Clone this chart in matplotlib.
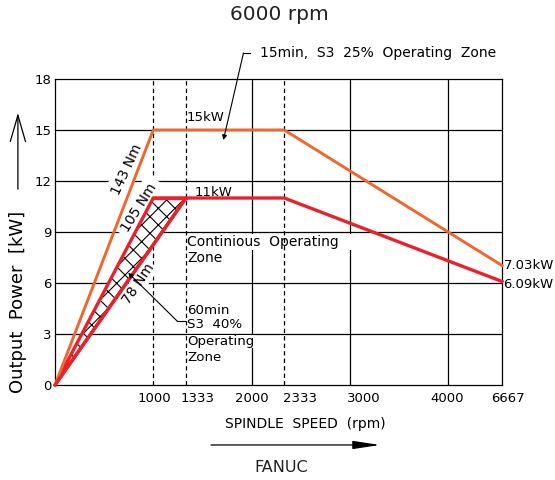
import numpy as np
import matplotlib
matplotlib.use('Agg')
import matplotlib.pyplot as plt
from matplotlib.patches import Polygon

plt.rcParams['font.family'] = ['DejaVu Sans']
plt.rcParams['hatch.linewidth'] = 0.8

# data
s3_25_speed = [0, 1000, 2333, 6667]     # 15min, S3 25%
s3_25_power = [0, 15, 15, 7.03]
cont_speed = [0, 1333, 2333, 6667]      # continuous
cont_power = [0, 11, 11, 6.09]
s3_40_speed = [0, 1000, 1333]           # 60min, S3 40%
s3_40_power = [0, 11, 11]

x_ticks = [1000, 1333, 2000, 2333, 3000, 4000, 6667]
x_tick_labels = ['1000', '1333', '2000', '2333', '3000', '4000', '6667']
x_dashed = [1000, 1333, 2333]
y_ticks = [0, 3, 6, 9, 12, 15, 18]

s3_40_lines = ['60min', 'S3  40%', 'Operating', 'Zone']
s3_40_line_y = [4.41, 3.53, 2.55, 1.6]

ORANGE = '#f0662c'
RED = '#e8212b'

# speed axis is linear up to 4000 then squeezed
k = 0.206
def fwd(x):
    x = np.asarray(x, float)
    return np.where(x <= 4000, x, 4000 + (x - 4000) * k)
def inv(y):
    y = np.asarray(y, float)
    return np.where(y <= 4000, y, 4000 + (y - 4000) / k)

fig = plt.figure(figsize=(5.55, 4.8), dpi=100)
ax = fig.add_axes([55/555, 1 - 385/480, 447/555, 306/480])
ax.set_xscale('function', functions=(fwd, inv))
ax.set_xlim(0, 6667)
ax.set_ylim(0, 18)

# grid
for y in y_ticks[1:-1]:
    ax.axhline(y, color='k', lw=0.9, zorder=1)
for x in x_ticks[:-1]:
    if x in x_dashed:
        z = 1 if x == 1000 else 2.5
        ax.axvline(x, color='k', lw=0.9, ls=(0, (3.5, 2.5)), zorder=z)
    else:
        ax.axvline(x, color='k', lw=0.9, zorder=1)
for s in ax.spines.values():
    s.set_linewidth(0.9)

ax.set_xticks([])
ax.set_yticks(y_ticks)
ax.tick_params(axis='y', length=0, pad=2.5, labelsize=9.5)
ax.xaxis.set_minor_locator(matplotlib.ticker.NullLocator())

# x tick labels, some sit right of their line
x_label_dx = [1, 8, 0, 11, 10, -1, 4]
for t, lbl, dx in zip(x_ticks, x_tick_labels, x_label_dx):
    ax.annotate(lbl, xy=(t, 0), xycoords=ax.get_xaxis_transform(),
                xytext=(dx, -10), textcoords='offset points',
                ha='center', va='center', fontsize=9.5)

# hatched 60min zone
pts = np.column_stack([s3_40_speed, s3_40_power])
ax.add_patch(Polygon(pts, closed=True, facecolor='white', edgecolor='k',
                     hatch='xx', lw=0, zorder=3))
ax.add_patch(Polygon(pts, closed=True, fill=False, edgecolor=RED,
                     lw=2.4, joinstyle='round', zorder=4))

ax.plot(s3_25_speed, s3_25_power, color=ORANGE, lw=2.1, zorder=4, clip_on=False)
ax.plot(cont_speed, cont_power, color=RED, lw=2.4, zorder=4, clip_on=False)
ax.plot(s3_40_speed[1:], s3_40_power[1:], color=RED, lw=2.4, zorder=4)

box = dict(boxstyle='square,pad=0.1', fc='white', ec='none')
nm_box = dict(boxstyle='square,pad=0.35', fc='white', ec='none')
ax.text(733, 12.65, '143 Nm', rotation=65, ha='center', va='center',
        fontsize=10, bbox=nm_box, zorder=2)
ax.text(860, 10.45, '105 Nm', rotation=58, ha='center', va='center',
        fontsize=10, bbox=nm_box, zorder=2)
ax.text(850, 5.95, '78 Nm', rotation=56, ha='center', va='center',
        fontsize=10, bbox=box, zorder=2)

ax.text(1531, 15.75, '15kW', ha='center', va='center', fontsize=9.5)
ax.text(1612, 11.35, '11kW', ha='center', va='center', fontsize=9.5)
ax.annotate('7.03kW', xy=(6667, s3_25_power[-1]), xytext=(1, 0),
            textcoords='offset points', ha='left', va='center', fontsize=9.5)
ax.annotate('6.09kW', xy=(6667, cont_power[-1]), xytext=(1, -2),
            textcoords='offset points', ha='left', va='center', fontsize=9.5)

ax.text(1345, 8.41, 'Continious  Operating   ', ha='left', va='center',
        fontsize=10, bbox=box, zorder=2)
ax.text(1345, 7.5, 'Zone', ha='left', va='center', fontsize=10,
        bbox=box, zorder=2)
for line, y in zip(s3_40_lines, s3_40_line_y):
    ax.text(1345, y, line, ha='left', va='center', fontsize=9.6,
            bbox=dict(boxstyle='square,pad=0.02', fc='white', ec='none'),
            zorder=2)

# leaders
ax.annotate('', xy=(745, 6.6), xytext=(1245, 3.75),
            arrowprops=dict(arrowstyle='-|>', lw=0.8, color='k',
                            mutation_scale=7, shrinkA=0, shrinkB=0), zorder=5)
ax.plot([1245, 1320], [3.75, 3.75], color='k', lw=0.8, zorder=5)

ax.annotate('', xy=(1714, 14.41), xytext=(1918, 19.53),
            arrowprops=dict(arrowstyle='-|>', lw=0.8, color='k',
                            mutation_scale=7, shrinkA=0, shrinkB=0),
            annotation_clip=False, zorder=5)
ax.plot([1918, 1980], [19.53, 19.53], color='k', lw=0.8, clip_on=False)
ax.text(2082, 19.53, '15min,  S3  25%  Operating  Zone', ha='left',
        va='center', fontsize=10)

# axis labels and arrows
ax.text(-0.083, 0.271, 'Output  Power  [kW]', transform=ax.transAxes,
        rotation=90, ha='center', va='center', fontsize=13)
ax.annotate('', xy=(-0.083, 0.889), xytext=(-0.083, 0.64),
            xycoords='axes fraction', textcoords='axes fraction',
            arrowprops=dict(arrowstyle='->,head_length=1.9,head_width=0.55',
                            lw=0.9, color='k', mutation_scale=10,
                            shrinkA=0, shrinkB=0))
ax.text(0.559, -0.1275, 'SPINDLE  SPEED  (rpm)', transform=ax.transAxes,
        ha='center', va='center', fontsize=10)
ax.annotate('', xy=(0.727, -0.196), xytext=(0.349, -0.196),
            xycoords='axes fraction', textcoords='axes fraction',
            arrowprops=dict(arrowstyle='-|>,head_length=1.65,head_width=0.25',
                            lw=0.9, color='k', mutation_scale=10,
                            shrinkA=0, shrinkB=0))
ax.text(0.5056, -0.268, 'FANUC', transform=ax.transAxes, ha='center',
        va='center', fontsize=11.5, color='#222222')

fig.text(279/555, 1 - 15/480, '6000 rpm', ha='center', va='center',
         fontsize=14.5, color='#222222')

fig.savefig('out.png', dpi=100)
